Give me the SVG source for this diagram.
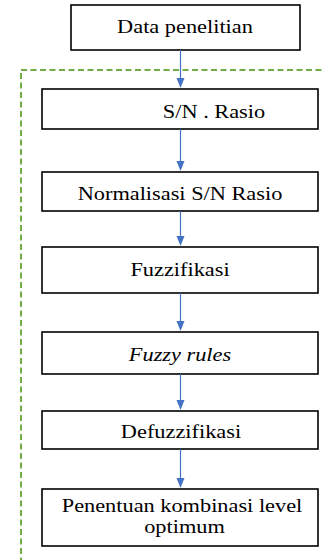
<svg xmlns="http://www.w3.org/2000/svg" width="324" height="560" viewBox="0 0 324 560">
<defs>
<style>
.box{fill:#fff;stroke:#000;stroke-width:1.6}
.c{stroke:#4472C4;stroke-width:1.2;fill:none}
.ah{fill:#4472C4}
</style>
</defs>
<rect x="21" y="70" width="330" height="520" fill="none" stroke="#70AD47" stroke-width="2" stroke-dasharray="6 3.5"/>
<g id="n1"><rect class="box" x="71" y="5" width="229" height="45"/><text font-family="Liberation Serif, serif" font-size="19.6" text-anchor="middle" transform="translate(185,33) scale(1.14,1)">Data penelitian</text></g>
<g id="n2"><rect class="box" x="42" y="89" width="276" height="40"/><text font-family="Liberation Serif, serif" font-size="19.6" text-anchor="middle" transform="translate(214,118) scale(1.14,1)">S/N . Rasio</text></g>
<g id="n3"><rect class="box" x="42" y="172" width="276" height="39"/><text font-family="Liberation Serif, serif" font-size="19.6" text-anchor="middle" transform="translate(180,200) scale(1.14,1)">Normalisasi S/N Rasio</text></g>
<g id="n4"><rect class="box" x="42" y="247" width="276" height="46"/><text font-family="Liberation Serif, serif" font-size="19.6" text-anchor="middle" transform="translate(180,276) scale(1.14,1)">Fuzzifikasi</text></g>
<g id="n5"><rect class="box" x="42" y="332" width="276" height="42"/><text font-family="Liberation Serif, serif" font-size="19.6" font-style="italic" text-anchor="middle" transform="translate(180,361) scale(1.14,1)">Fuzzy rules</text></g>
<g id="n6"><rect class="box" x="42" y="411" width="276" height="38"/><text font-family="Liberation Serif, serif" font-size="19.6" text-anchor="middle" transform="translate(181,438) scale(1.14,1)">Defuzzifikasi</text></g>
<g id="n7"><rect class="box" x="42" y="489" width="276" height="57"/><text font-family="Liberation Serif, serif" font-size="19.6" text-anchor="middle" transform="translate(182,512) scale(1.14,1)">Penentuan kombinasi level</text><text font-family="Liberation Serif, serif" font-size="19.6" text-anchor="middle" transform="translate(184.5,533) scale(1.14,1)">optimum</text></g>
<g id="connectors">
<line class="c" x1="180.5" y1="50" x2="180.5" y2="80"/><polygon class="ah" points="176.5,78 184.5,78 180.5,88"/>
<line class="c" x1="180.5" y1="129" x2="180.5" y2="163"/><polygon class="ah" points="176.5,161 184.5,161 180.5,171"/>
<line class="c" x1="180.5" y1="211" x2="180.5" y2="238"/><polygon class="ah" points="176.5,236 184.5,236 180.5,246"/>
<line class="c" x1="180.5" y1="293" x2="180.5" y2="323"/><polygon class="ah" points="176.5,321 184.5,321 180.5,331"/>
<line class="c" x1="180.5" y1="374" x2="180.5" y2="402"/><polygon class="ah" points="176.5,400 184.5,400 180.5,410"/>
<line class="c" x1="180.5" y1="449" x2="180.5" y2="480"/><polygon class="ah" points="176.5,478 184.5,478 180.5,488"/>
</g>
</svg>
